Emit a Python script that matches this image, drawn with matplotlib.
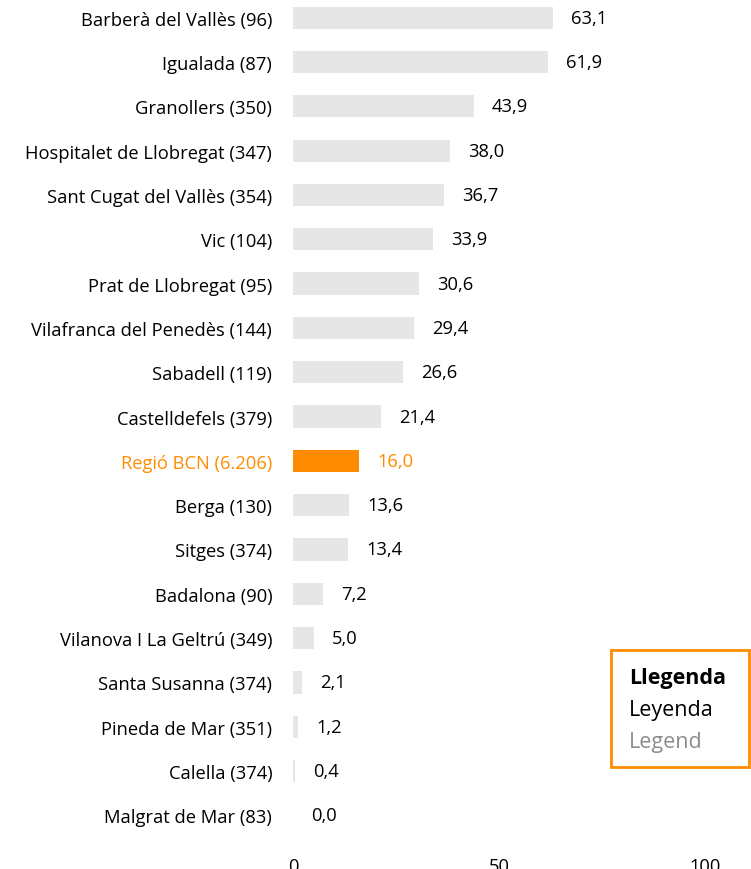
import matplotlib
matplotlib.use('Agg')
import matplotlib.pyplot as plt
from matplotlib.patches import Rectangle

plt.rcParams['font.family'] = ['Open Sans', 'DejaVu Sans']

# data
labels = ['Barberà del Vallès (96)', 'Igualada (87)', 'Granollers (350)',
          'Hospitalet de Llobregat (347)', 'Sant Cugat del Vallès (354)',
          'Vic (104)', 'Prat de Llobregat (95)', 'Vilafranca del Penedès (144)',
          'Sabadell (119)', 'Castelldefels (379)', 'Regió BCN (6.206)',
          'Berga (130)', 'Sitges (374)', 'Badalona (90)',
          'Vilanova I La Geltrú (349)', 'Santa Susanna (374)',
          'Pineda de Mar (351)', 'Calella (374)', 'Malgrat de Mar (83)']
values = [63.1, 61.9, 43.9, 38.0, 36.7, 33.9, 30.6, 29.4, 26.6, 21.4,
          16.0, 13.6, 13.4, 7.2, 5.0, 2.1, 1.2, 0.4, 0.0]
highlight = 'Regió BCN (6.206)'
xticks = [0, 50, 100]

grey = '#e6e6e6'
orange = '#ff8c00'
fs = 13.2

W, H = 751, 870
fig = plt.figure(figsize=(W / 100, H / 100), dpi=100)
ax = fig.add_axes([293 / W, 1 - 843 / H, 412 / W, 843 / H])

pos = list(range(len(labels)))
cols = [orange if l == highlight else grey for l in labels]
ax.barh(pos, values, height=0.5, color=cols)
ax.set_xlim(0, 100)
ax.set_ylim(18.6, -0.42)

for p, v, l in zip(pos, values, labels):
    c = orange if l == highlight else 'black'
    ax.text(v + 4.4, p, f'{v:.1f}'.replace('.', ','), va='center', ha='left',
            fontsize=fs, color=c)

ax.set_yticks(pos)
ax.set_yticklabels(labels, fontsize=fs)
for t, l in zip(ax.get_yticklabels(), labels):
    if l == highlight:
        t.set_color(orange)
ax.set_xticks(xticks)
ax.set_xticklabels([str(x) for x in xticks], fontsize=fs)
ax.tick_params(axis='y', length=0, pad=15)
ax.tick_params(axis='x', length=0, pad=11)
for s in ax.spines.values():
    s.set_visible(False)

# legend box
fig.patches.append(Rectangle((611 / W, 1 - 768 / H), 138 / W, 117 / H,
                             transform=fig.transFigure, fill=False,
                             edgecolor=orange, linewidth=2))
fig.text(629 / W, 1 - 679 / H, 'Llegenda', fontsize=15.5, fontweight='bold',
         va='center', ha='left')
fig.text(629 / W, 1 - 711 / H, 'Leyenda', fontsize=15.5, va='center', ha='left')
fig.text(629 / W, 1 - 743 / H, 'Legend', fontsize=15.5, va='center', ha='left',
         color='#8c8c8c')

fig.savefig('out.png', dpi=100)
